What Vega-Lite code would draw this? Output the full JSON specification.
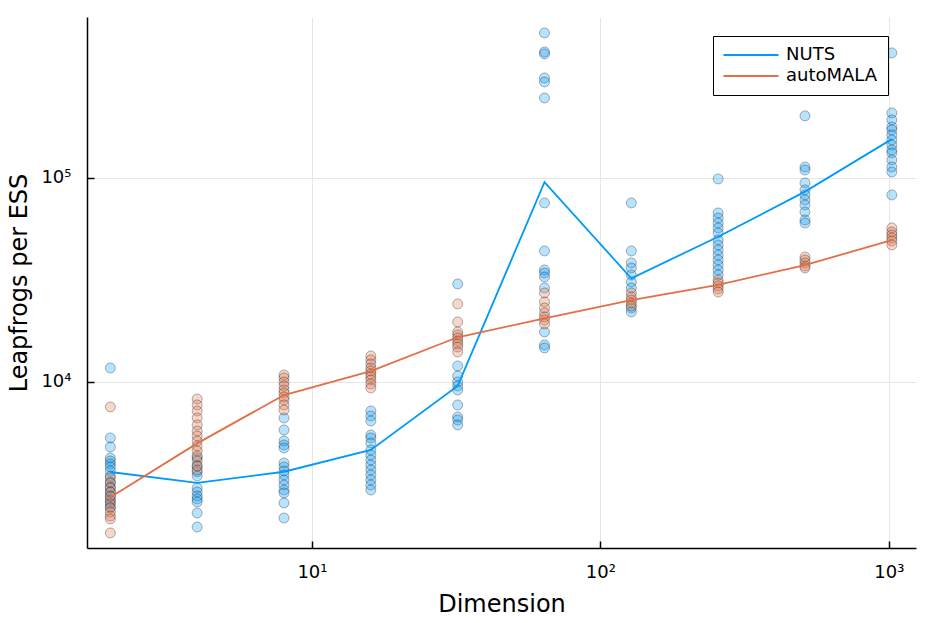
{
  "$schema": "https://vega.github.io/schema/vega-lite/v6.json",
  "width": 829,
  "height": 531,
  "autosize": "none",
  "padding": {"left": 87, "top": 17, "right": 18, "bottom": 75},
  "background": "white",
  "config": {
    "view": {"stroke": null},
    "font": "DejaVu Sans"
  },
  "datasets": {
    "pts": [
      {"dim": 2, "method": "NUTS", "v": 11710}, {"dim": 2, "method": "NUTS", "v": 5315}, {"dim": 2, "method": "NUTS", "v": 4802}, {"dim": 2, "method": "NUTS", "v": 4241}, {"dim": 2, "method": "NUTS", "v": 4100}, {"dim": 2, "method": "NUTS", "v": 3963}, {"dim": 2, "method": "NUTS", "v": 3831}, {"dim": 2, "method": "NUTS", "v": 3661}, {"dim": 2, "method": "NUTS", "v": 3461}, {"dim": 2, "method": "NUTS", "v": 3235}, {"dim": 2, "method": "NUTS", "v": 3057}, {"dim": 2, "method": "NUTS", "v": 2889}, {"dim": 2, "method": "NUTS", "v": 2731}, {"dim": 2, "method": "NUTS", "v": 2581}, {"dim": 2, "method": "NUTS", "v": 2439},
      {"dim": 4, "method": "NUTS", "v": 4241}, {"dim": 4, "method": "NUTS", "v": 3875}, {"dim": 4, "method": "NUTS", "v": 3622}, {"dim": 4, "method": "NUTS", "v": 3461}, {"dim": 4, "method": "NUTS", "v": 3022}, {"dim": 4, "method": "NUTS", "v": 2889}, {"dim": 4, "method": "NUTS", "v": 2762}, {"dim": 4, "method": "NUTS", "v": 2670}, {"dim": 4, "method": "NUTS", "v": 2581}, {"dim": 4, "method": "NUTS", "v": 2279}, {"dim": 4, "method": "NUTS", "v": 1946},
      {"dim": 8, "method": "NUTS", "v": 6661}, {"dim": 8, "method": "NUTS", "v": 5817}, {"dim": 8, "method": "NUTS", "v": 5138}, {"dim": 8, "method": "NUTS", "v": 4911}, {"dim": 8, "method": "NUTS", "v": 4748}, {"dim": 8, "method": "NUTS", "v": 4008}, {"dim": 8, "method": "NUTS", "v": 3831}, {"dim": 8, "method": "NUTS", "v": 3661}, {"dim": 8, "method": "NUTS", "v": 3500}, {"dim": 8, "method": "NUTS", "v": 3308}, {"dim": 8, "method": "NUTS", "v": 3127}, {"dim": 8, "method": "NUTS", "v": 2955}, {"dim": 8, "method": "NUTS", "v": 2857}, {"dim": 8, "method": "NUTS", "v": 2552}, {"dim": 8, "method": "NUTS", "v": 2154},
      {"dim": 16, "method": "NUTS", "v": 7207}, {"dim": 16, "method": "NUTS", "v": 6813}, {"dim": 16, "method": "NUTS", "v": 6440}, {"dim": 16, "method": "NUTS", "v": 5497}, {"dim": 16, "method": "NUTS", "v": 5315}, {"dim": 16, "method": "NUTS", "v": 5024}, {"dim": 16, "method": "NUTS", "v": 4642}, {"dim": 16, "method": "NUTS", "v": 4387}, {"dim": 16, "method": "NUTS", "v": 4146}, {"dim": 16, "method": "NUTS", "v": 3918}, {"dim": 16, "method": "NUTS", "v": 3703}, {"dim": 16, "method": "NUTS", "v": 3500}, {"dim": 16, "method": "NUTS", "v": 3308}, {"dim": 16, "method": "NUTS", "v": 3127}, {"dim": 16, "method": "NUTS", "v": 2955},
      {"dim": 32, "method": "NUTS", "v": 30230}, {"dim": 32, "method": "NUTS", "v": 11979}, {"dim": 32, "method": "NUTS", "v": 10700}, {"dim": 32, "method": "NUTS", "v": 10000}, {"dim": 32, "method": "NUTS", "v": 9559}, {"dim": 32, "method": "NUTS", "v": 9137}, {"dim": 32, "method": "NUTS", "v": 7714}, {"dim": 32, "method": "NUTS", "v": 6739}, {"dim": 32, "method": "NUTS", "v": 6515}, {"dim": 32, "method": "NUTS", "v": 6156},
      {"dim": 64, "method": "NUTS", "v": 513900}, {"dim": 64, "method": "NUTS", "v": 414600}, {"dim": 64, "method": "NUTS", "v": 405400}, {"dim": 64, "method": "NUTS", "v": 309200}, {"dim": 64, "method": "NUTS", "v": 295500}, {"dim": 64, "method": "NUTS", "v": 246700}, {"dim": 64, "method": "NUTS", "v": 75420}, {"dim": 64, "method": "NUTS", "v": 43870}, {"dim": 64, "method": "NUTS", "v": 35400}, {"dim": 64, "method": "NUTS", "v": 34210}, {"dim": 64, "method": "NUTS", "v": 32710}, {"dim": 64, "method": "NUTS", "v": 28890}, {"dim": 64, "method": "NUTS", "v": 17585}, {"dim": 64, "method": "NUTS", "v": 15180}, {"dim": 64, "method": "NUTS", "v": 14680},
      {"dim": 128, "method": "NUTS", "v": 75420}, {"dim": 128, "method": "NUTS", "v": 43870}, {"dim": 128, "method": "NUTS", "v": 38310}, {"dim": 128, "method": "NUTS", "v": 36210}, {"dim": 128, "method": "NUTS", "v": 33460}, {"dim": 128, "method": "NUTS", "v": 30920}, {"dim": 128, "method": "NUTS", "v": 28890}, {"dim": 128, "method": "NUTS", "v": 23050}, {"dim": 128, "method": "NUTS", "v": 22030},
      {"dim": 256, "method": "NUTS", "v": 98880}, {"dim": 256, "method": "NUTS", "v": 67360}, {"dim": 256, "method": "NUTS", "v": 63660}, {"dim": 256, "method": "NUTS", "v": 60160}, {"dim": 256, "method": "NUTS", "v": 56860}, {"dim": 256, "method": "NUTS", "v": 53730}, {"dim": 256, "method": "NUTS", "v": 49670}, {"dim": 256, "method": "NUTS", "v": 46940}, {"dim": 256, "method": "NUTS", "v": 44370}, {"dim": 256, "method": "NUTS", "v": 41930}, {"dim": 256, "method": "NUTS", "v": 39630}, {"dim": 256, "method": "NUTS", "v": 37450}, {"dim": 256, "method": "NUTS", "v": 35400}, {"dim": 256, "method": "NUTS", "v": 33460},
      {"dim": 512, "method": "NUTS", "v": 201400}, {"dim": 512, "method": "NUTS", "v": 113200}, {"dim": 512, "method": "NUTS", "v": 109400}, {"dim": 512, "method": "NUTS", "v": 94520}, {"dim": 512, "method": "NUTS", "v": 87360}, {"dim": 512, "method": "NUTS", "v": 82540}, {"dim": 512, "method": "NUTS", "v": 78020}, {"dim": 512, "method": "NUTS", "v": 73730}, {"dim": 512, "method": "NUTS", "v": 68130}, {"dim": 512, "method": "NUTS", "v": 62260}, {"dim": 512, "method": "NUTS", "v": 60160},
      {"dim": 1024, "method": "NUTS", "v": 410000}, {"dim": 1024, "method": "NUTS", "v": 208200}, {"dim": 1024, "method": "NUTS", "v": 192400}, {"dim": 1024, "method": "NUTS", "v": 177800}, {"dim": 1024, "method": "NUTS", "v": 171900}, {"dim": 1024, "method": "NUTS", "v": 162500}, {"dim": 1024, "method": "NUTS", "v": 153600}, {"dim": 1024, "method": "NUTS", "v": 145100}, {"dim": 1024, "method": "NUTS", "v": 137200}, {"dim": 1024, "method": "NUTS", "v": 132600}, {"dim": 1024, "method": "NUTS", "v": 122500}, {"dim": 1024, "method": "NUTS", "v": 113200}, {"dim": 1024, "method": "NUTS", "v": 107000}, {"dim": 1024, "method": "NUTS", "v": 82540},
      {"dim": 2, "method": "autoMALA", "v": 7542}, {"dim": 2, "method": "autoMALA", "v": 3383}, {"dim": 2, "method": "autoMALA", "v": 3197}, {"dim": 2, "method": "autoMALA", "v": 3022}, {"dim": 2, "method": "autoMALA", "v": 2889}, {"dim": 2, "method": "autoMALA", "v": 2762}, {"dim": 2, "method": "autoMALA", "v": 2640}, {"dim": 2, "method": "autoMALA", "v": 2523}, {"dim": 2, "method": "autoMALA", "v": 2412}, {"dim": 2, "method": "autoMALA", "v": 2305}, {"dim": 2, "method": "autoMALA", "v": 2203}, {"dim": 2, "method": "autoMALA", "v": 2130}, {"dim": 2, "method": "autoMALA", "v": 1819},
      {"dim": 4, "method": "autoMALA", "v": 8254}, {"dim": 4, "method": "autoMALA", "v": 7714}, {"dim": 4, "method": "autoMALA", "v": 7207}, {"dim": 4, "method": "autoMALA", "v": 6661}, {"dim": 4, "method": "autoMALA", "v": 6156}, {"dim": 4, "method": "autoMALA", "v": 5752}, {"dim": 4, "method": "autoMALA", "v": 5437}, {"dim": 4, "method": "autoMALA", "v": 5138}, {"dim": 4, "method": "autoMALA", "v": 4857}, {"dim": 4, "method": "autoMALA", "v": 4589}, {"dim": 4, "method": "autoMALA", "v": 4338}, {"dim": 4, "method": "autoMALA", "v": 4100}, {"dim": 4, "method": "autoMALA", "v": 3875}, {"dim": 4, "method": "autoMALA", "v": 3703},
      {"dim": 8, "method": "autoMALA", "v": 10822}, {"dim": 8, "method": "autoMALA", "v": 10462}, {"dim": 8, "method": "autoMALA", "v": 10000}, {"dim": 8, "method": "autoMALA", "v": 9559}, {"dim": 8, "method": "autoMALA", "v": 9137}, {"dim": 8, "method": "autoMALA", "v": 8833}, {"dim": 8, "method": "autoMALA", "v": 8443}, {"dim": 8, "method": "autoMALA", "v": 8160}, {"dim": 8, "method": "autoMALA", "v": 7714}, {"dim": 8, "method": "autoMALA", "v": 7292},
      {"dim": 16, "method": "autoMALA", "v": 13411}, {"dim": 16, "method": "autoMALA", "v": 12820}, {"dim": 16, "method": "autoMALA", "v": 12254}, {"dim": 16, "method": "autoMALA", "v": 11710}, {"dim": 16, "method": "autoMALA", "v": 11322}, {"dim": 16, "method": "autoMALA", "v": 10944}, {"dim": 16, "method": "autoMALA", "v": 10581}, {"dim": 16, "method": "autoMALA", "v": 10228}, {"dim": 16, "method": "autoMALA", "v": 9777}, {"dim": 16, "method": "autoMALA", "v": 9346},
      {"dim": 32, "method": "autoMALA", "v": 24125}, {"dim": 32, "method": "autoMALA", "v": 19683}, {"dim": 32, "method": "autoMALA", "v": 17585}, {"dim": 32, "method": "autoMALA", "v": 16999}, {"dim": 32, "method": "autoMALA", "v": 16432}, {"dim": 32, "method": "autoMALA", "v": 15885}, {"dim": 32, "method": "autoMALA", "v": 15355}, {"dim": 32, "method": "autoMALA", "v": 14843}, {"dim": 32, "method": "autoMALA", "v": 14031},
      {"dim": 64, "method": "autoMALA", "v": 27310}, {"dim": 64, "method": "autoMALA", "v": 24670}, {"dim": 64, "method": "autoMALA", "v": 23050}, {"dim": 64, "method": "autoMALA", "v": 21790}, {"dim": 64, "method": "autoMALA", "v": 20830}, {"dim": 64, "method": "autoMALA", "v": 20130}, {"dim": 64, "method": "autoMALA", "v": 19240},
      {"dim": 128, "method": "autoMALA", "v": 27310}, {"dim": 128, "method": "autoMALA", "v": 26100}, {"dim": 128, "method": "autoMALA", "v": 25230}, {"dim": 128, "method": "autoMALA", "v": 24390}, {"dim": 128, "method": "autoMALA", "v": 23580},
      {"dim": 256, "method": "autoMALA", "v": 31620}, {"dim": 256, "method": "autoMALA", "v": 30570}, {"dim": 256, "method": "autoMALA", "v": 29550}, {"dim": 256, "method": "autoMALA", "v": 28560}, {"dim": 256, "method": "autoMALA", "v": 27610},
      {"dim": 512, "method": "autoMALA", "v": 41000}, {"dim": 512, "method": "autoMALA", "v": 39630}, {"dim": 512, "method": "autoMALA", "v": 38310}, {"dim": 512, "method": "autoMALA", "v": 37030}, {"dim": 512, "method": "autoMALA", "v": 36210},
      {"dim": 1024, "method": "autoMALA", "v": 56860}, {"dim": 1024, "method": "autoMALA", "v": 54340}, {"dim": 1024, "method": "autoMALA", "v": 52540}, {"dim": 1024, "method": "autoMALA", "v": 50800}, {"dim": 1024, "method": "autoMALA", "v": 49110}, {"dim": 1024, "method": "autoMALA", "v": 46940}
    ],
    "lines": [
      {"dim": 2, "method": "NUTS", "v": 3620}, {"dim": 4, "method": "NUTS", "v": 3200}, {"dim": 8, "method": "NUTS", "v": 3630}, {"dim": 16, "method": "NUTS", "v": 4640}, {"dim": 32, "method": "NUTS", "v": 9560}, {"dim": 64, "method": "NUTS", "v": 95300}, {"dim": 128, "method": "NUTS", "v": 32200}, {"dim": 256, "method": "NUTS", "v": 51500}, {"dim": 512, "method": "NUTS", "v": 85700}, {"dim": 1024, "method": "NUTS", "v": 155000},
      {"dim": 2, "method": "autoMALA", "v": 2720}, {"dim": 4, "method": "autoMALA", "v": 5000}, {"dim": 8, "method": "autoMALA", "v": 8630}, {"dim": 16, "method": "autoMALA", "v": 11300}, {"dim": 32, "method": "autoMALA", "v": 16560}, {"dim": 64, "method": "autoMALA", "v": 20500}, {"dim": 128, "method": "autoMALA", "v": 25200}, {"dim": 256, "method": "autoMALA", "v": 29900}, {"dim": 512, "method": "autoMALA", "v": 37400}, {"dim": 1024, "method": "autoMALA", "v": 49600}
    ]
  },
  "resolve": {"axis": {"x": "independent", "y": "independent"}},
  "layer": [
    {
      "encoding": {
        "x": {
          "field": "dim", "type": "quantitative",
          "scale": {"type": "log", "domain": [1.66, 1242], "nice": false},
          "axis": {
            "title": "Dimension", "values": [10, 100, 1000],
            "labelExpr": "datum.value == 10 ? '10¹' : datum.value == 100 ? '10²' : '10³'",
            "labelFontSize": 18, "labelColor": "black", "labelPadding": 15,
            "titleFontSize": 24, "titleFontWeight": "normal", "titleColor": "black", "titlePadding": 11,
            "domainColor": "black", "domainWidth": 1.5,
            "ticks": false, "tickSize": 0,
            "grid": true, "gridColor": "#e6e6e6", "gridWidth": 1
          }
        },
        "y": {
          "field": "v", "type": "quantitative",
          "scale": {"type": "log", "domain": [1535, 615000], "nice": false},
          "axis": {
            "title": "Leapfrogs per ESS", "values": [10000, 100000],
            "labelExpr": "datum.value == 10000 ? '10⁴' : '10⁵'",
            "labelFontSize": 18, "labelColor": "black", "labelPadding": 16,
            "titleFontSize": 24, "titleFontWeight": "normal", "titleColor": "black", "titlePadding": 9,
            "domainColor": "black", "domainWidth": 1.5,
            "ticks": false, "tickSize": 0,
            "grid": true, "gridColor": "#e6e6e6", "gridWidth": 1
          }
        }
      },
      "layer": [
        {
          "data": {"name": "pts"},
          "mark": {"type": "point", "shape": "circle", "filled": true, "size": 100, "fillOpacity": 0.28, "stroke": "black", "strokeOpacity": 0.3, "strokeWidth": 1},
          "encoding": {
            "fill": {"field": "method", "type": "nominal", "scale": {"domain": ["autoMALA", "NUTS"], "range": ["#E26F46", "#009AFA"]}, "legend": null}
          }
        },
        {
          "data": {"name": "lines"},
          "mark": {"type": "line", "strokeWidth": 1.8},
          "encoding": {
            "color": {
              "field": "method", "type": "nominal",
              "scale": {"domain": ["NUTS", "autoMALA"], "range": ["#009AFA", "#E26F46"]},
              "legend": {
                "title": null, "orient": "none", "legendX": 626, "legendY": 19,
                "symbolType": "M-5,0H5", "symbolSize": 121, "symbolStrokeWidth": 1.8,
                "symbolOffset": 19,
                "labelFontSize": 18, "labelColor": "black", "labelOffset": 26,
                "padding": 10, "strokeColor": "black", "fillColor": "white",
                "rowPadding": 3
              }
            }
          }
        }
      ]
    },
    {
      "data": {"name": "lines"},
      "mark": {"type": "line", "opacity": 0},
      "encoding": {
        "detail": {"field": "method", "type": "nominal"},
        "x": {
          "field": "dim", "type": "quantitative",
          "axis": {
            "orient": "bottom", "offset": -7, "values": [10, 100, 1000],
            "domain": false, "labels": false, "grid": false, "title": null,
            "ticks": true, "tickColor": "black", "tickSize": 7, "tickWidth": 1.5
          }
        },
        "y": {
          "field": "v", "type": "quantitative",
          "axis": {
            "orient": "left", "offset": -7, "values": [10000, 100000],
            "domain": false, "labels": false, "grid": false, "title": null,
            "ticks": true, "tickColor": "black", "tickSize": 7, "tickWidth": 1.5
          }
        }
      }
    }
  ]
}
